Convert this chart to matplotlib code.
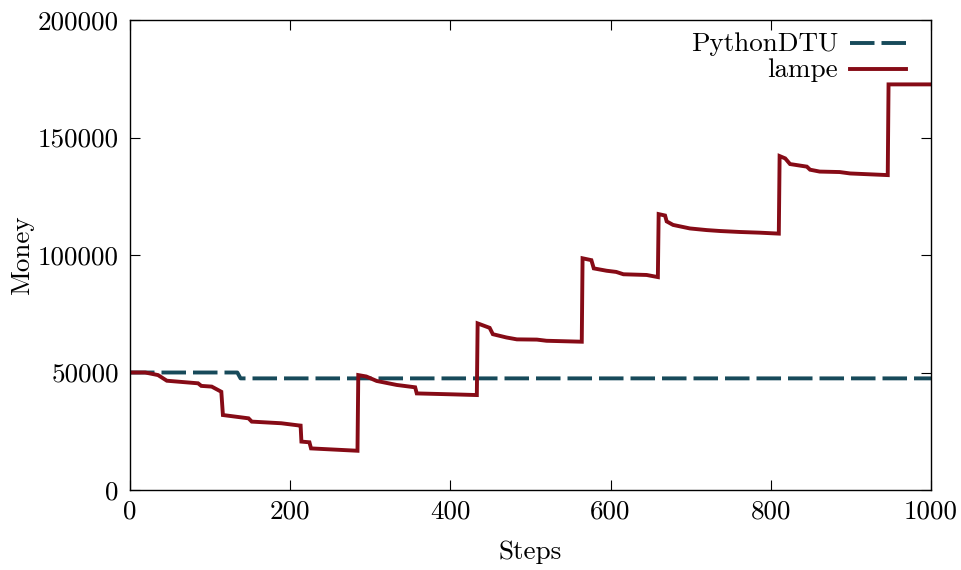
import matplotlib
matplotlib.use("Agg")
import matplotlib.pyplot as plt
from matplotlib.lines import Line2D

plt.rcParams['font.family'] = ['cmr10', 'DejaVu Serif']
plt.rcParams['axes.formatter.use_mathtext'] = True

# PythonDTU series
python_steps = [0, 134, 138, 1000]
python_money = [50000, 50000, 47500, 47500]

# lampe series
lampe_steps = [0, 19, 35, 46, 85, 89, 102, 114, 116, 148, 152, 189, 210, 213, 214,
               224, 226, 284, 285, 295, 308, 333, 356, 358, 403, 433, 434, 449,
               453, 470, 483, 508, 520, 564, 565, 576, 579, 595, 607, 616, 645,
               659, 660, 668, 670, 678, 699, 720, 737, 761, 786, 810, 811, 818,
               824, 845, 849, 861, 886, 899, 946, 947, 1000]
lampe_money = [50000, 50000, 48900, 46500, 45400, 44300, 44000, 41800, 31900,
               30500, 29100, 28400, 27500, 27400, 20600, 20300, 17700, 16700,
               48900, 48300, 46400, 44700, 43700, 41100, 40700, 40400, 70900,
               69000, 66300, 64900, 64100, 64000, 63500, 63100, 98600, 97800,
               94300, 93300, 92800, 91800, 91500, 90600, 117400, 116800, 114300,
               112800, 111300, 110600, 110200, 109800, 109500, 109100, 142100,
               141100, 138700, 137600, 136300, 135500, 135300, 134700, 134000,
               172600, 172600]

x_ticks = [0, 200, 400, 600, 800, 1000]
y_ticks = [0, 50000, 100000, 150000, 200000]

c_py = '#174a5a'
c_la = '#860b16'
lw = 2.8
dash = (6.3, 1.8)

fig = plt.figure(figsize=(9.61, 5.70), dpi=100)
ax = fig.add_axes([130/961, 80/570, 801/961, 470/570])

ax.plot(python_steps, python_money, color=c_py, lw=lw, dashes=dash,
        solid_joinstyle='miter')
ax.plot(lampe_steps, lampe_money, color=c_la, lw=lw, solid_joinstyle='miter')

ax.set_xlim(0, 1000)
ax.set_ylim(0, 200000)
ax.set_xticks(x_ticks)
ax.set_xticklabels([str(v) for v in x_ticks])
ax.set_yticks(y_ticks)
ax.set_yticklabels([str(v) for v in y_ticks])
ax.tick_params(direction='in', length=7, width=0.8, top=True, right=True,
               labelsize=19.5, pad=8)
ax.tick_params(axis='x', pad=7)
for s in ax.spines.values():
    s.set_linewidth(1.0)

ax.set_xlabel('Steps', fontsize=19.5, labelpad=12)
ax.set_ylabel('Money', fontsize=19.5, labelpad=3)

# legend (right-aligned text, sample line to the right)
tr = ax.transAxes
def ax_x(px):
    return (px - 130) / 801
def ax_y(py):
    return (490 - py) / 470

ax.text(ax_x(838), ax_y(44), 'PythonDTU', transform=tr, ha='right',
        va='center', fontsize=19.5)
ax.text(ax_x(838), ax_y(70), 'lampe', transform=tr, ha='right',
        va='center', fontsize=19.5)
ax.add_line(Line2D([ax_x(850), ax_x(906)], [ax_y(43), ax_y(43)], transform=tr,
                   color=c_py, lw=lw, dashes=dash))
ax.add_line(Line2D([ax_x(850), ax_x(906)], [ax_y(69), ax_y(69)], transform=tr,
                   color=c_la, lw=lw))

fig.savefig('out.png', dpi=100)
